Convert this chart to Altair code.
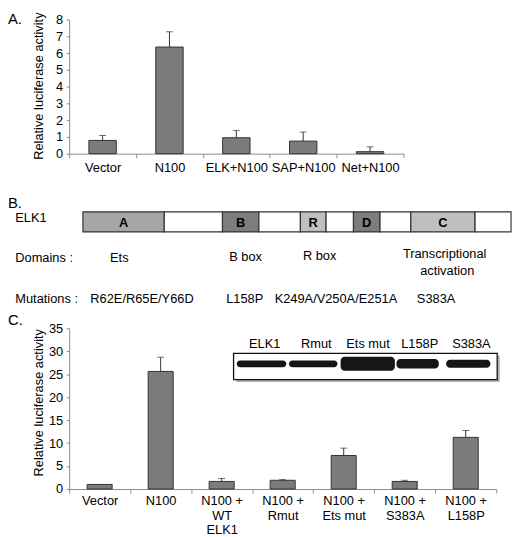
import altair as alt
import pandas as pd

FONT = "Liberation Sans"
INK = "#000000"
AXIS_GREY = "#8c8c8c"
BAR_FILL = "#7b7b7b"
BAR_EDGE = "#333333"

# ---------------- Panel A data ----------------
a_groups = ["Vector", "N100", "ELK+N100", "SAP+N100", "Net+N100"]
a_values = [0.79, 6.36, 0.95, 0.75, 0.12]
a_errors = [0.29, 0.91, 0.44, 0.54, 0.29]
a_ticks = [0, 1, 2, 3, 4, 5, 6, 7, 8]

# ---------------- Panel B data (ELK1 schematic, % of protein length) ----------------
b_seg_label = ["A", "", "B", "", "R", "", "D", "", "C", ""]
b_seg_start = [0.0, 19.0, 32.6, 41.1, 50.8, 56.8, 63.2, 69.4, 76.6, 91.6]
b_seg_end = [19.0, 32.6, 41.1, 50.8, 56.8, 63.2, 69.4, 76.6, 91.6, 100.0]
b_seg_shade = ["mid", "none", "dark", "none", "light", "none", "dark", "none", "light", "none"]
b_shades = ["mid", "dark", "light", "none"]
b_shade_colors = ["#a6a6a6", "#7d7d7d", "#bfbfbf", "#ffffff"]

b_headers = ["ELK1", "Domains :", "Mutations :"]
b_domain_text = ["Ets", "B box", "R box", "Transcriptional", "activation"]
b_domain_pos = [8.5, 38.0, 55.3, 84.5, 85.1]
b_mut_text = ["R62E/R65E/Y66D", "L158P", "K249A/V250A/E251A", "S383A"]
b_mut_pos = [13.8, 37.8, 59.1, 82.5]

# ---------------- Panel C data ----------------
c_groups = ["Vector", "N100", "N100 +|WT|ELK1", "N100 +|Rmut", "N100 +|Ets mut",
            "N100 +|S383A", "N100 +|L158P"]
c_values = [1.0, 25.6, 1.65, 1.9, 7.3, 1.65, 11.25]
c_errors = [0.0, 3.1, 0.65, 0.15, 1.6, 0.25, 1.5]
c_ticks = [0, 5, 10, 15, 20, 25, 30, 35]

# western blot inset (lane units)
lanes = ["ELK1", "Rmut", "Ets mut", "L158P", "S383A"]
band_start = [-0.04, 0.97, 1.97, 3.05, 4.01]
band_end = [0.92, 1.91, 3.02, 3.87, 4.87]
band_thickness = [0.26, 0.26, 0.53, 0.36, 0.30]

# ---------------- layout constants ----------------
A_W, A_H = 339, 136
B_W, B_H = 448, 177
C_W, C_H = 433, 163


def bar_layer(groups, values, errors, ticks, label_padding, title_y):
    df = pd.DataFrame({"group": groups, "value": values, "err": errors})
    df["top"] = df["value"] + df["err"]
    ymax = ticks[-1]
    xscale = alt.Scale(paddingInner=0, paddingOuter=0)
    xaxis = alt.Axis(title=None, labelAngle=0, tickBand="extent", tickSize=4,
                     labelPadding=label_padding, domainColor=AXIS_GREY, tickColor=AXIS_GREY,
                     labelColor=INK, labelFontSize=13, labelFont=FONT, labelOverlap=False,
                     labelExpr="split(datum.label, '|')", labelLineHeight=15)
    yscale = alt.Scale(domain=[0, ymax], nice=False, zero=True)
    yaxis = alt.Axis(title="Relative luciferase activity", values=ticks,
                     tickCount=len(ticks) + 2, grid=False, tickSize=3, labelPadding=3.5,
                     domainColor=AXIS_GREY, tickColor=AXIS_GREY, labelColor=INK,
                     labelFontSize=13, labelFont=FONT, labelOverlap=False,
                     titleFontSize=13, titleFontWeight="normal", titleColor=INK, titleFont=FONT,
                     titleX=-24, titleY=title_y)
    base = alt.Chart(df)
    xenc = alt.X("group:N", sort=groups, scale=xscale, axis=xaxis)
    bars = base.mark_bar(width=alt.RelativeBandSize(0.41), color=BAR_FILL, stroke=BAR_EDGE,
                         strokeWidth=1).encode(
        x=xenc, y=alt.Y("value:Q", scale=yscale, axis=yaxis))
    rules = base.transform_filter("datum.err > 0").mark_rule(color=BAR_EDGE, strokeWidth=1).encode(
        x=xenc, y=alt.Y("value:Q", scale=yscale, axis=yaxis), y2="top:Q")
    caps = base.transform_filter("datum.err > 0").mark_tick(
        color=BAR_EDGE, thickness=1, size=7, orient="horizontal").encode(
        x=xenc, y=alt.Y("top:Q", scale=yscale, axis=yaxis))
    return bars, rules, caps


def panel_letter(letter, ypix):
    return alt.Chart(pd.DataFrame({"t": [letter]})).mark_text(
        align="left", baseline="middle", fontSize=15, font=FONT, color=INK
    ).encode(text="t:N", x=alt.value(-62), y=alt.value(ypix))


# ---------------- Panel A ----------------
a_bars, a_rules, a_caps = bar_layer(a_groups, a_values, a_errors, a_ticks, 4, A_H / 2 - 1)
panel_a = alt.layer(a_bars, a_rules, a_caps, panel_letter("A.", 0)).properties(
    width=A_W, height=A_H)

# ---------------- Panel B ----------------
bx = alt.Scale(domain=[-3.218, 100], nice=False, zero=False)
by = alt.Scale(domain=[0, B_H], reverse=True, nice=False, zero=False)
BAR_TOP, BAR_BOTTOM = 59.0, 79.3
ROW_HEADER = [65.5, 105.5, 147.5]
ROW_DOMAIN = [105.5, 104.5, 103.8, 101.8, 119.0]
ROW_MUT = 147.5

seg_df = pd.DataFrame({"label": b_seg_label, "start": b_seg_start, "end": b_seg_end,
                       "shade": b_seg_shade})
segs = alt.Chart(seg_df).transform_calculate(
    top=str(BAR_TOP), bottom=str(BAR_BOTTOM)
).mark_rect(stroke="#333333", strokeWidth=1.2).encode(
    x=alt.X("start:Q", scale=bx, axis=None), x2="end:Q",
    y=alt.Y("top:Q", scale=by, axis=None), y2="bottom:Q",
    color=alt.Color("shade:N", scale=alt.Scale(domain=b_shades, range=b_shade_colors), legend=None),
)
letters = alt.Chart(seg_df).transform_filter("datum.label != ''").transform_calculate(
    mid="(datum.start + datum.end) / 2", yy=str((BAR_TOP + BAR_BOTTOM) / 2 + 1.5)
).mark_text(fontSize=13, fontWeight="bold", font=FONT, color=INK, baseline="middle").encode(
    x=alt.X("mid:Q", scale=bx, axis=None), y=alt.Y("yy:Q", scale=by, axis=None), text="label:N")

hdr_df = pd.DataFrame({"text": b_headers, "y": ROW_HEADER})
headers = alt.Chart(hdr_df).transform_calculate(x="-15.8").mark_text(
    align="left", baseline="middle", fontSize=13, font=FONT, color=INK).encode(
    x=alt.X("x:Q", scale=bx, axis=None), y=alt.Y("y:Q", scale=by, axis=None), text="text:N")

dom_df = pd.DataFrame({"text": b_domain_text, "x": b_domain_pos, "y": ROW_DOMAIN})
domains = alt.Chart(dom_df).mark_text(
    align="center", baseline="middle", fontSize=13, font=FONT, color=INK).encode(
    x=alt.X("x:Q", scale=bx, axis=None), y=alt.Y("y:Q", scale=by, axis=None), text="text:N")

mut_df = pd.DataFrame({"text": b_mut_text, "x": b_mut_pos})
muts = alt.Chart(mut_df).transform_calculate(y=str(ROW_MUT)).mark_text(
    align="center", baseline="middle", fontSize=13, font=FONT, color=INK).encode(
    x=alt.X("x:Q", scale=bx, axis=None), y=alt.Y("y:Q", scale=by, axis=None), text="text:N")

panel_b = alt.layer(segs, letters, headers, domains, muts, panel_letter("B.", 50)).properties(
    width=B_W, height=B_H)

# ---------------- Panel C ----------------
c_bars, c_rules, c_caps = bar_layer(c_groups, c_values, c_errors, c_ticks, 1.5, 75)
main_c = alt.layer(c_bars, c_rules, c_caps, panel_letter("C.", -8))

ix = alt.Scale(domain=[0, 5], range=[172, 434], nice=False, zero=False)
iy = alt.Scale(domain=[0, 1], range=[52, 25.4], nice=False, zero=False)
FRAME = {"x0": [-0.101], "x1": [5.0], "y0": [0.0], "y1": [1.0]}
frame_df = pd.DataFrame(FRAME)
shadow = alt.Chart(frame_df).transform_calculate(
    sx0="datum.x0 + 0.05", sx1="datum.x1 + 0.05", sy0="datum.y0 - 0.094", sy1="datum.y1 - 0.094"
).mark_rect(color="#b5b5b5").encode(
    x=alt.X("sx0:Q", scale=ix, axis=None), x2="sx1:Q",
    y=alt.Y("sy0:Q", scale=iy, axis=None), y2="sy1:Q")
frame = alt.Chart(frame_df).mark_rect(fill="#ffffff", stroke="#111111", strokeWidth=1.3).encode(
    x=alt.X("x0:Q", scale=ix, axis=None), x2="x1:Q",
    y=alt.Y("y0:Q", scale=iy, axis=None), y2="y1:Q")
blot_df = pd.DataFrame({"lane": lanes, "idx": list(range(len(lanes))), "s": band_start,
                        "e": band_end, "t": band_thickness})
bands = alt.Chart(blot_df).transform_calculate(
    b0="0.60 - datum.t / 2", b1="0.60 + datum.t / 2"
).mark_rect(color="#161616", cornerRadius=4).encode(
    x=alt.X("s:Q", scale=ix, axis=None), x2="e:Q",
    y=alt.Y("b0:Q", scale=iy, axis=None), y2="b1:Q")
lane_text = alt.Chart(blot_df).transform_calculate(
    xc="datum.idx + 0.5", yl="1.365"
).mark_text(fontSize=13, font=FONT, color=INK, baseline="middle").encode(
    x=alt.X("xc:Q", scale=ix, axis=None), y=alt.Y("yl:Q", scale=iy, axis=None), text="lane:N")
inset = alt.layer(shadow, frame, bands, lane_text)

panel_c = alt.layer(main_c, inset).resolve_scale(x="independent", y="independent").properties(
    width=C_W, height=C_H)

chart = alt.vconcat(panel_a, panel_b, panel_c, spacing=0, bounds="flush").properties(
    padding={"left": 0, "top": 0, "right": 0, "bottom": 0}
).configure(font=FONT).configure_view(stroke=None).configure_axis(
    titleFontSize=13, labelFontSize=13).configure_axisY(labelOverlap=False)

chart.save("out.html", embed_options={"renderer": "svg", "actions": False})
